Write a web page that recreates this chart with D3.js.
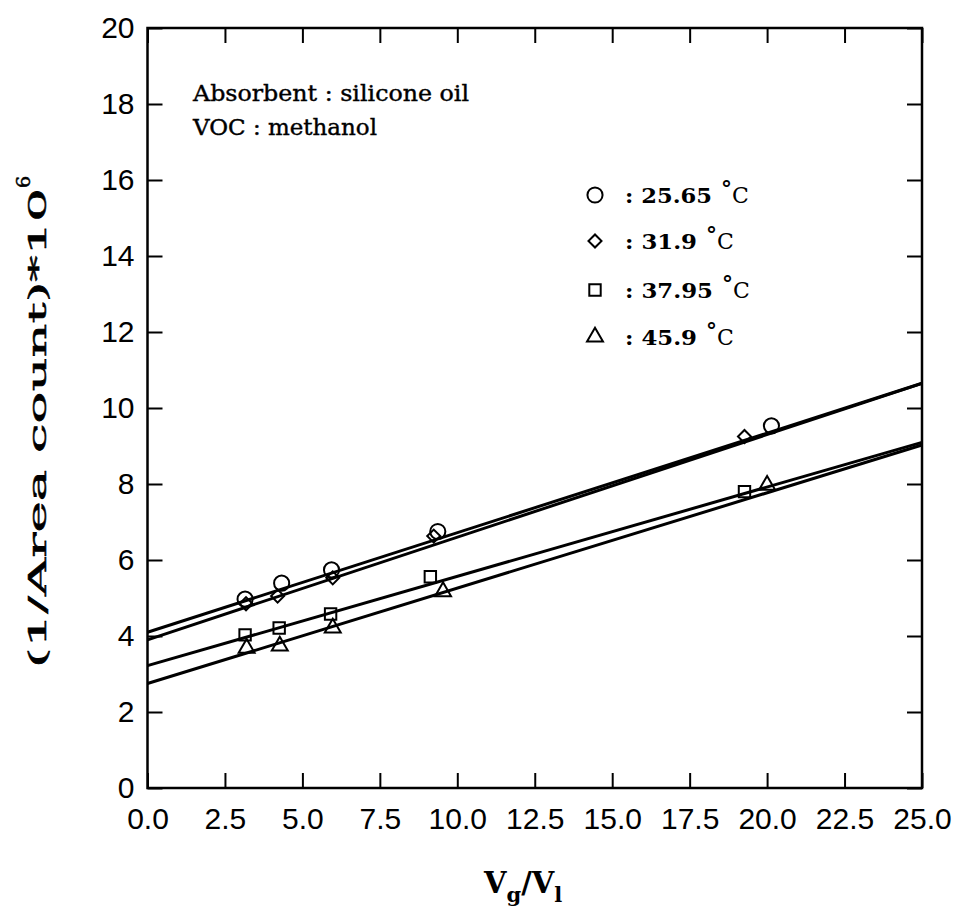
<!DOCTYPE html>
<html><head><meta charset="utf-8">
<script src="https://cdn.jsdelivr.net/npm/d3@7"></script>
<style>body{margin:0;background:#fff}svg{display:block}</style>
</head><body>
<svg id="c" width="960" height="909"></svg>
<script>
// ---- data ----
const seriesNames = ["25.65", "31.9", "37.95", "45.9"];
const seriesSymbols = ["circle", "diamond", "square", "triangle"];
const x25_65 = [3.15, 4.33, 5.94, 9.37, 20.14];
const y25_65 = [4.97, 5.39, 5.74, 6.75, 9.53];
const x31_9 = [3.18, 4.20, 5.98, 9.24, 19.27];
const y31_9 = [4.85, 5.05, 5.53, 6.63, 9.25];
const x37_95 = [3.15, 4.25, 5.91, 9.13, 19.27];
const y37_95 = [4.03, 4.21, 4.58, 5.56, 7.80];
const x45_9 = [3.20, 4.27, 5.98, 9.54, 20.00];
const y45_9 = [3.68, 3.74, 4.21, 5.17, 7.97];
const fitIntercepts = [4.10, 3.90, 3.22, 2.75];
const fitSlopes = [0.262, 0.270, 0.235, 0.251];
const xTicks = [0, 2.5, 5, 7.5, 10, 12.5, 15, 17.5, 20, 22.5, 25];
const yTicks = [0, 2, 4, 6, 8, 10, 12, 14, 16, 18, 20];
const noteLines = ["Absorbent : silicone oil", "VOC : methanol"];

const xs = [x25_65, x31_9, x37_95, x45_9];
const ys = [y25_65, y31_9, y37_95, y45_9];

const svg = d3.select("#c");
const L = 147.5, R = 922, T = 28, B = 788;
const x = d3.scaleLinear().domain([0, 25]).range([L, R]);
const y = d3.scaleLinear().domain([0, 20]).range([B, T]);

const tickFont = "'Liberation Sans', Arial, sans-serif";
const serif = "'DejaVu Serif', serif";

function styleAxis(g){
  g.select(".domain").remove();
  g.selectAll(".tick line").attr("stroke", "#000").attr("stroke-width", 2);
}
const fmt = d3.format(".1f");
svg.append("g").attr("transform", `translate(0,${B})`)
  .call(d3.axisBottom(x).tickValues(xTicks).tickSize(-15).tickFormat(fmt))
  .call(styleAxis)
  .call(g => g.selectAll("text").attr("font-family", tickFont).attr("font-size", 30).attr("fill", "#000").attr("dy", "0.71em").attr("y", 20));
svg.append("g").attr("transform", `translate(0,${T})`)
  .call(d3.axisTop(x).tickValues(xTicks).tickSize(-15).tickFormat(""))
  .call(styleAxis);
svg.append("g").attr("transform", `translate(${L},0)`)
  .call(d3.axisLeft(y).tickValues(yTicks).tickSize(-15).tickFormat(d3.format("d")))
  .call(styleAxis)
  .call(g => g.selectAll("text").attr("font-family", tickFont).attr("font-size", 30).attr("fill", "#000").attr("x", -13));
svg.append("g").attr("transform", `translate(${R},0)`)
  .call(d3.axisRight(y).tickValues(yTicks).tickSize(-15).tickFormat(""))
  .call(styleAxis);

svg.append("rect").attr("x", L).attr("y", T).attr("width", R - L).attr("height", B - T)
  .attr("fill", "none").attr("stroke", "#000").attr("stroke-width", 2.5);

// fit lines
const line = d3.line().x(d => x(d[0])).y(d => y(d[1]));
fitIntercepts.forEach((b, i) => {
  const m = fitSlopes[i];
  svg.append("path").attr("d", line([[0, b], [25, b + 25 * m]]))
    .attr("fill", "none").attr("stroke", "#000").attr("stroke-width", 3);
});

// markers
const symMap = {circle: d3.symbolCircle, diamond: d3.symbolSquare, square: d3.symbolSquare, triangle: d3.symbolTriangle};
const symSize = {circle: 180, diamond: 85, square: 130, triangle: 110};
function marker(g, name){
  g.append("path").attr("d", d3.symbol().type(symMap[name]).size(symSize[name])())
    .attr("transform", name === "diamond" ? "rotate(45)" : null)
    .attr("fill", "none").attr("stroke", "#000").attr("stroke-width", 2);
}
xs.forEach((arr, i) => {
  arr.forEach((xv, j) => {
    const g = svg.append("g").attr("transform", `translate(${x(xv)},${y(ys[i][j])})`);
    marker(g, seriesSymbols[i]);
  });
});

// note text
const noteW = [276, 184];
noteLines.forEach((t, i) => {
  svg.append("text").attr("x", 193).attr("y", 101 + i * 34)
    .attr("font-family", serif).attr("font-size", 22)
    .attr("textLength", noteW[i]).attr("lengthAdjust", "spacingAndGlyphs")
    .attr("stroke", "#000").attr("stroke-width", 0.4)
    .text(t);
});

// legend
const legY = [203, 249, 298, 345];
const legW = [87, 72, 88, 72];
seriesNames.forEach((n, i) => {
  const g = svg.append("g").attr("transform", `translate(595,${legY[i] - 8})`);
  marker(g, seriesSymbols[i]);
  svg.append("text").attr("x", 625).attr("y", legY[i])
    .attr("font-family", serif).attr("font-size", 21).attr("font-weight", "bold")
    .attr("textLength", legW[i]).attr("lengthAdjust", "spacingAndGlyphs")
    .text(": " + n);
  svg.append("text").attr("x", 625 + legW[i] + 9).attr("y", legY[i] - 6)
    .attr("font-family", serif).attr("font-size", 22).attr("font-weight", "bold").text("°");
  svg.append("text").attr("x", 625 + legW[i] + 20).attr("y", legY[i])
    .attr("font-family", serif).attr("font-size", 22).text("C");
});

// y axis title
const yt = svg.append("text").attr("transform", "translate(46,668) rotate(-90)")
  .attr("font-family", serif).attr("font-size", 25)
  .attr("stroke", "#000").attr("stroke-width", 0.5);
yt.append("tspan").attr("textLength", 480).attr("lengthAdjust", "spacingAndGlyphs").text("(1/Area count)*10");
yt.append("tspan").attr("dy", -16).attr("font-size", 19).text("6");

// x axis title
const xt = svg.append("text").attr("x", 484).attr("y", 893)
  .attr("font-family", serif).attr("font-size", 29).attr("font-weight", "bold");
xt.append("tspan").text("V");
xt.append("tspan").attr("dy", 9).attr("font-size", 21).text("g");
xt.append("tspan").attr("dy", -9).text("/V");
xt.append("tspan").attr("dy", 9).attr("font-size", 21).text("l");
</script>
</body></html>
